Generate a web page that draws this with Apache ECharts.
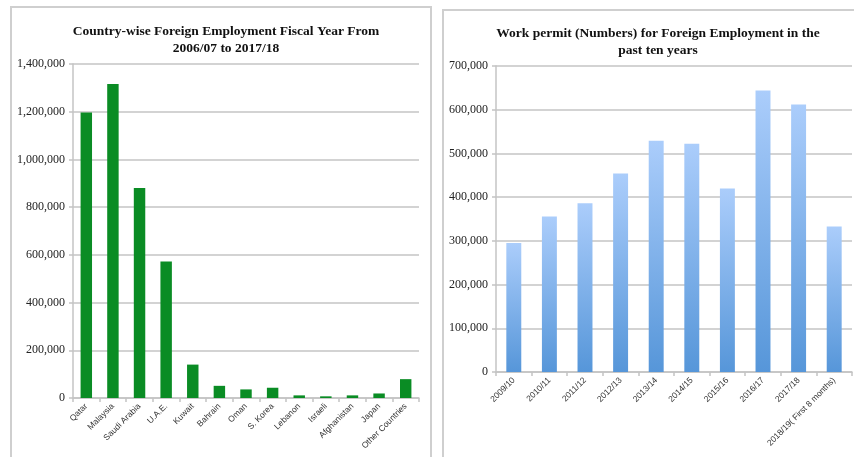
<!DOCTYPE html>
<html>
<head>
<meta charset="utf-8">
<script src="https://cdn.jsdelivr.net/npm/echarts@6/dist/echarts.min.js"></script>
<style>
  html, body { margin: 0; padding: 0; background: #ffffff; }
  #chart { width: 854px; height: 457px; }
</style>
</head>
<body>
<div id="chart"></div>
<script>
// Country-wise foreign employment, FY 2006/07 to 2017/18
const countries = ['Qatar', 'Malaysia', 'Saudi Arabia', 'U.A.E.', 'Kuwait', 'Bahrain', 'Oman',
  'S. Korea', 'Lebanon', 'Israeli', 'Afghanistan', 'Japan', 'Other Countries'];
const countryWorkers = [1197000, 1316000, 880000, 572000, 140000, 51000, 36000,
  43000, 11000, 7000, 11000, 19000, 79000];

// Work permits issued per fiscal year
const fiscalYears = ['2009/10', '2010/11', '2011/12', '2012/13', '2013/14', '2014/15',
  '2015/16', '2016/17', '2017/18', '2018/19( First 8 months)'];
const workPermits = [295000, 356000, 386000, 454000, 529000, 522000, 420000, 644000, 612000, 333000];

const leftTitle = 'Country-wise Foreign Employment Fiscal Year From\n2006/07 to 2017/18';
const rightTitle = 'Work permit (Numbers) for Foreign Employment in the\npast ten years';

const gridColor = '#c4c4c4';
const fmt = v => v.toLocaleString('en-US');

function valueAxis(gridIndex, max, interval) {
  return {
    type: 'value', gridIndex, min: 0, max, interval,
    axisLine: { show: true, lineStyle: { color: gridColor, width: 1.5 } },
    axisTick: { show: true, length: 4, lineStyle: { color: gridColor, width: 1.5 } },
    splitLine: { show: true, lineStyle: { color: gridColor, width: 1.5 } },
    axisLabel: { formatter: fmt, color: '#222', fontFamily: 'Liberation Serif', fontSize: 12, margin: 8 }
  };
}
function categoryAxis(gridIndex, data) {
  return {
    type: 'category', gridIndex, data,
    axisLine: { lineStyle: { color: gridColor, width: 1.5 } },
    axisTick: { show: true, length: 4, lineStyle: { color: gridColor, width: 1.5 } },
    axisLabel: { rotate: 45, interval: 0, color: '#333', fontFamily: 'Liberation Sans', fontSize: 8.5, margin: 7 }
  };
}

const chart = echarts.init(document.getElementById('chart'), null, { renderer: 'canvas' });
chart.setOption({
  backgroundColor: '#ffffff',
  animation: false,
  graphic: [
    { type: 'rect', shape: { x: 11, y: 7, width: 420, height: 460 },
      style: { fill: 'none', stroke: '#cfcfcf', lineWidth: 2 }, z: -1 },
    { type: 'rect', shape: { x: 443, y: 10, width: 420, height: 460 },
      style: { fill: 'none', stroke: '#cfcfcf', lineWidth: 2 }, z: -1 }
  ],
  title: [
    { text: leftTitle, left: 221, top: 18, textAlign: 'center',
      textStyle: { fontFamily: 'Liberation Serif', fontWeight: 'bold', fontSize: 13.5, color: '#111', lineHeight: 17 } },
    { text: rightTitle, left: 653, top: 20, textAlign: 'center',
      textStyle: { fontFamily: 'Liberation Serif', fontWeight: 'bold', fontSize: 13.5, color: '#111', lineHeight: 17 } }
  ],
  grid: [
    { left: 73, top: 64, width: 346, height: 334 },
    { left: 496, top: 66, width: 356, height: 306 }
  ],
  xAxis: [categoryAxis(0, countries), categoryAxis(1, fiscalYears)],
  yAxis: [valueAxis(0, 1400000, 200000), valueAxis(1, 700000, 100000)],
  series: [
    {
      type: 'bar', xAxisIndex: 0, yAxisIndex: 0, data: countryWorkers,
      barWidth: '43%',
      itemStyle: { color: '#0a8c24' }
    },
    {
      type: 'bar', xAxisIndex: 1, yAxisIndex: 1, data: workPermits,
      barWidth: '42%',
      itemStyle: {
        color: new echarts.graphic.LinearGradient(0, 0, 0, 1, [
          { offset: 0, color: '#abcdfb' },
          { offset: 1, color: '#5696d9' }
        ])
      }
    }
  ]
});
</script>
</body>
</html>
